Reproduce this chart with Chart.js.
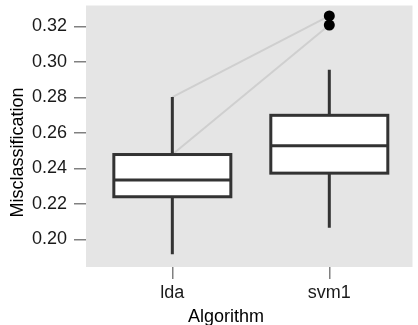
<!DOCTYPE html>
<html>
<head>
<meta charset="utf-8">
<script src="https://cdn.jsdelivr.net/npm/chart.js@4.4.1/dist/chart.umd.min.js"></script>
<style>
  html, body { margin: 0; padding: 0; background: #fff; }
  #wrap { width: 418px; height: 325px; }
</style>
</head>
<body>
<div id="wrap"><canvas id="boxChart" width="418" height="325"></canvas></div>
<script>
// misclassification rates per algorithm
const algorithms = ['lda', 'svm1'];
const positions = [1, 2];
const whiskerLow = [0.1916, 0.2065];
const q1 = [0.2240, 0.2373];
const median = [0.2335, 0.2527];
const q3 = [0.2478, 0.2699];
const whiskerHigh = [0.2802, 0.2956];
const svm1Outliers = [0.3259, 0.3208];
// paired folds: lda value -> svm1 value
const pairLda = [0.2802, 0.2478];
const pairSvm1 = [0.3259, 0.3208];
const yTicks = [0.20, 0.22, 0.24, 0.26, 0.28, 0.30, 0.32];

const FONT = '"Liberation Sans", Arial, sans-serif';
const INK = '#333333';

const panelBg = {
    id: 'panelBg',
    beforeDraw(chart) {
        const { ctx, chartArea: a } = chart;
        ctx.save();
        ctx.fillStyle = '#e5e5e5';
        ctx.fillRect(a.left, a.top, a.right - a.left, a.bottom - a.top);
        ctx.restore();
    }
};

// whiskers, box outline and median on top of the white bars
const boxParts = {
    id: 'boxParts',
    afterDatasetsDraw(chart) {
        const ctx = chart.ctx;
        const y = chart.scales.y;
        const bars = chart.getDatasetMeta(2).data;
        ctx.save();
        ctx.strokeStyle = INK;
        ctx.lineWidth = 3;
        bars.forEach((bar, i) => {
            const x = bar.x;
            const half = bar.width / 2;
            const top = y.getPixelForValue(q3[i]);
            const bot = y.getPixelForValue(q1[i]);
            ctx.lineCap = 'butt';
            ctx.beginPath();
            ctx.moveTo(x, top);
            ctx.lineTo(x, y.getPixelForValue(whiskerHigh[i]));
            ctx.moveTo(x, bot);
            ctx.lineTo(x, y.getPixelForValue(whiskerLow[i]));
            ctx.stroke();
            ctx.strokeRect(x - half, top, half * 2, bot - top);
            const m = y.getPixelForValue(median[i]);
            ctx.beginPath();
            ctx.moveTo(x - half, m);
            ctx.lineTo(x + half, m);
            ctx.stroke();
        });
        ctx.restore();
    }
};

const axisTitles = {
    id: 'axisTitles',
    afterDraw(chart) {
        const ctx = chart.ctx;
        ctx.save();
        ctx.fillStyle = '#000';
        ctx.font = '18px ' + FONT;
        ctx.textAlign = 'center';
        ctx.textBaseline = 'alphabetic';
        ctx.fillText('Algorithm', 226, 321.5);
        ctx.translate(22.5, 152.5);
        ctx.rotate(-Math.PI / 2);
        ctx.fillText('Misclassification', 0, 0);
        ctx.restore();
    }
};

new Chart(document.getElementById('boxChart'), {
    data: {
        datasets: [
            {
                type: 'line',
                order: 3,
                data: positions.map((p, i) => ({ x: p, y: [pairLda[0], pairSvm1[0]][i] })),
                borderColor: '#cfcfcf',
                borderWidth: 2,
                pointRadius: 0
            },
            {
                type: 'line',
                order: 3,
                data: positions.map((p, i) => ({ x: p, y: [pairLda[1], pairSvm1[1]][i] })),
                borderColor: '#cfcfcf',
                borderWidth: 2,
                pointRadius: 0
            },
            {
                type: 'bar',
                order: 2,
                data: positions.map((p, i) => ({ x: p, y: [q1[i], q3[i]] })),
                backgroundColor: '#ffffff',
                borderWidth: 0,
                barThickness: 117
            },
            {
                type: 'line',
                order: 1,
                showLine: false,
                data: svm1Outliers.map(v => ({ x: positions[1], y: v })),
                pointRadius: 5.5,
                pointBackgroundColor: '#000',
                pointBorderWidth: 0
            }
        ]
    },
    options: {
        responsive: false,
        animation: false,
        layout: { padding: { top: 5, right: 0, left: 0, bottom: 0 } },
        plugins: { legend: { display: false }, tooltip: { enabled: false } },
        scales: {
            x: {
                type: 'linear',
                min: 0.45,
                max: 2.53,
                offset: false,
                afterBuildTicks: s => { s.ticks = positions.map(v => ({ value: v })); },
                afterFit: s => { s.height = 58; s.paddingLeft = 0; s.paddingRight = 0; },
                ticks: {
                    callback: v => algorithms[positions.indexOf(v)],
                    font: { family: FONT, size: 18 },
                    color: '#1a1a1a',
                    padding: 3,
                    maxRotation: 0
                },
                grid: { offset: false, drawOnChartArea: false, drawTicks: true, tickLength: 12, color: '#808080', lineWidth: 1.5 },
                border: { display: false }
            },
            y: {
                min: 0.1844,
                max: 0.3318,
                afterBuildTicks: s => { s.ticks = yTicks.map(v => ({ value: v })); },
                afterFit: s => { s.width = 86; s.paddingTop = 0; s.paddingBottom = 0; },
                ticks: {
                    callback: v => v.toFixed(2),
                    font: { family: FONT, size: 18 },
                    color: '#1a1a1a',
                    padding: 7
                },
                grid: { drawOnChartArea: false, drawTicks: true, tickLength: 12, color: '#808080', lineWidth: 1.5 },
                border: { display: false }
            }
        }
    },
    plugins: [panelBg, boxParts, axisTitles]
});
</script>
</body>
</html>
